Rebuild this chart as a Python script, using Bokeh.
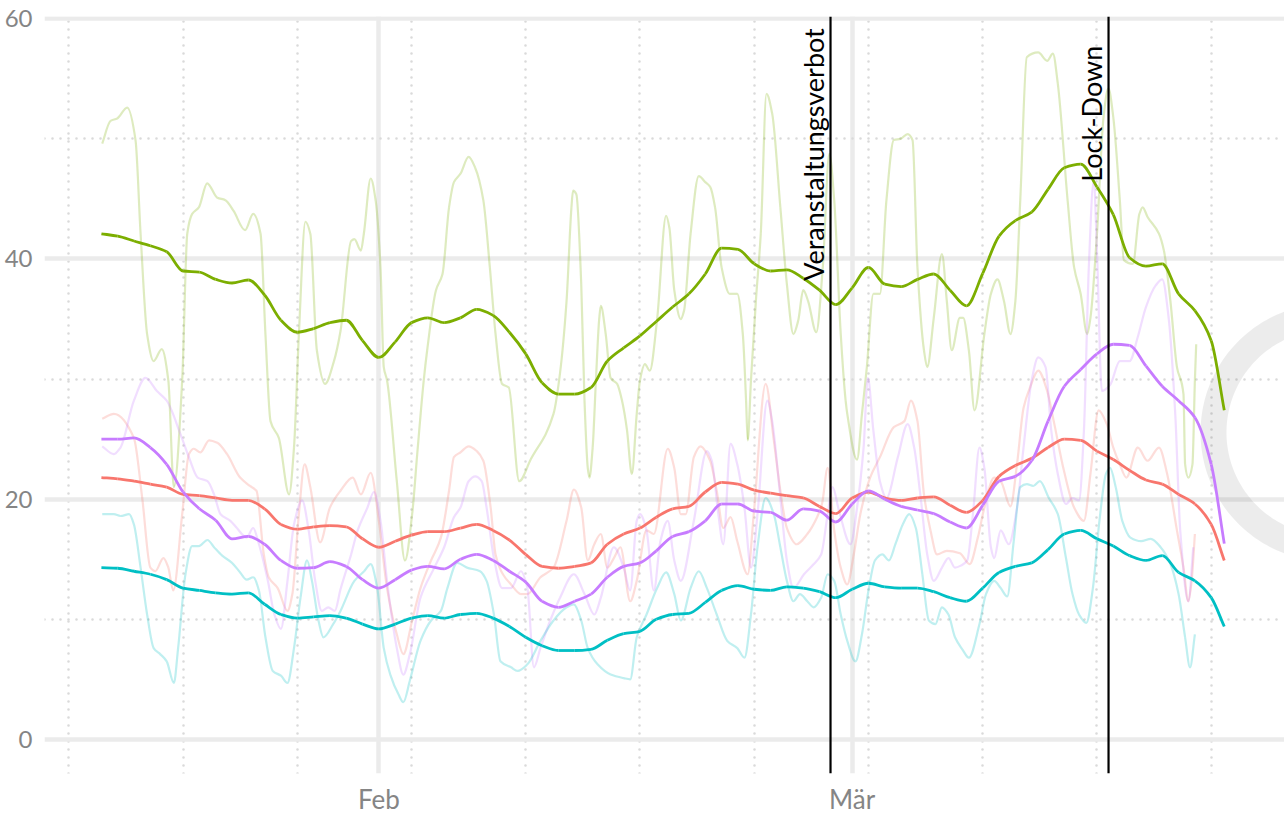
import numpy as np
import pandas as pd
from bokeh.plotting import figure
from bokeh.models import Range1d, FixedTicker, CustomJSTickFormatter, Span
from bokeh.core.properties import value
from bokeh.embed import file_html
from bokeh.resources import INLINE

# ---------------- data ----------------
START = "2020-01-15"          # day 0 of all day offsets below

# smoothed series: one value per day (day 0 .. 68) plus the last point at day 68.8
smooth_days = list(range(69)) + [68.8]
green_smooth = [42.1, 41.9, 41.5, 41.1, 40.6, 39.0, 38.9, 38.3, 38.0, 38.25,
                37.0, 34.9, 33.9, 34.2, 34.7, 34.9, 33.2, 31.8, 33.1, 34.7,
                35.1, 34.7, 35.1, 35.8, 35.3, 33.9, 32.1, 29.7, 28.75, 28.75,
                29.3, 31.5, 32.6, 33.6, 34.8, 36.0, 37.1, 38.75, 40.9, 40.8,
                39.6, 39.0, 39.1, 38.4, 37.4, 36.2, 37.6, 39.3, 37.9, 37.7,
                38.3, 38.75, 37.4, 36.1, 38.8, 41.9, 43.2, 43.9, 45.8, 47.6,
                47.9, 46.0, 43.7, 40.1, 39.4, 39.6, 37.1, 35.7, 33.2, 27.4]
red_smooth = [21.8, 21.7, 21.5, 21.25, 21.0, 20.4, 20.3, 20.1, 19.9, 19.9,
              19.2, 17.9, 17.5, 17.7, 17.8, 17.7, 16.7, 16.0, 16.5, 17.0,
              17.3, 17.3, 17.6, 17.9, 17.4, 16.6, 15.4, 14.4, 14.25, 14.4,
              14.7, 16.25, 17.1, 17.6, 18.5, 19.2, 19.4, 20.6, 21.4, 21.25,
              20.75, 20.5, 20.3, 20.1, 19.4, 18.8, 20.1, 20.6, 20.1, 19.9,
              20.1, 20.2, 19.5, 18.9, 19.9, 21.9, 22.8, 23.4, 24.3, 25.0,
              24.9, 24.0, 23.3, 22.4, 21.6, 21.25, 20.4, 19.6, 17.9, 14.9]
purple_smooth = [25.0, 25.0, 25.1, 24.3, 22.9, 20.6, 19.2, 18.25, 16.7, 16.9,
                 16.25, 14.9, 14.25, 14.3, 14.8, 14.4, 13.3, 12.6, 13.3, 14.1,
                 14.4, 14.2, 15.0, 15.4, 14.9, 14.0, 13.1, 11.5, 11.0, 11.5,
                 12.1, 13.5, 14.4, 14.7, 15.7, 16.9, 17.3, 18.2, 19.6, 19.6,
                 19.0, 18.9, 18.25, 19.2, 19.0, 18.1, 19.6, 20.7, 20.0, 19.4,
                 19.1, 18.8, 18.1, 17.6, 19.5, 21.5, 21.9, 23.2, 26.5, 29.4,
                 30.8, 32.1, 32.9, 32.8, 31.1, 29.4, 28.2, 26.8, 22.9, 16.3]
cyan_smooth = [14.3, 14.25, 14.0, 13.75, 13.3, 12.6, 12.4, 12.2, 12.1, 12.2,
               11.25, 10.4, 10.1, 10.2, 10.3, 10.1, 9.6, 9.2, 9.6, 10.1,
               10.3, 10.1, 10.4, 10.5, 10.1, 9.4, 8.5, 7.8, 7.4, 7.4,
               7.5, 8.25, 8.8, 9.0, 10.0, 10.4, 10.5, 11.4, 12.4, 12.8,
               12.5, 12.4, 12.7, 12.6, 12.3, 11.8, 12.5, 13.0, 12.7, 12.6,
               12.6, 12.3, 11.8, 11.5, 12.6, 13.9, 14.4, 14.7, 15.8, 17.1,
               17.4, 16.7, 16.1, 15.3, 14.9, 15.3, 13.9, 13.2, 11.8, 9.4]

# raw series: (day offset, value) pairs
green_raw = [(0.05, 49.6), (0.56, 51.5), (0.97, 51.7), (1.58, 52.6), (2.09, 49.9), (2.4, 42.1),
             (2.8, 33.75), (3.2, 31.5), (3.7, 32.5), (4.1, 29.9), (4.44, 21.0), (4.95, 29.9),
             (5.26, 42.1), (5.56, 43.75), (5.97, 44.3), (6.48, 46.3), (7.1, 45.1), (7.6, 44.9),
             (8.1, 44.0), (8.8, 42.4), (9.3, 43.75), (9.75, 42.1), (10.05, 33.75), (10.36, 26.5),
             (10.87, 25.1), (11.5, 20.4), (11.8, 24.3), (12.1, 33.75), (12.5, 43.1), (12.8, 42.1),
             (13.2, 32.4), (13.7, 29.6), (14.25, 31.5), (14.65, 34.0), (15.3, 41.5), (15.5, 41.65),
             (15.9, 40.7), (16.08, 42.1), (16.5, 46.7), (16.8, 44.9), (17.1, 39.3), (17.3, 31.0),
             (17.5, 29.9), (18.1, 21.5), (18.6, 14.9), (19.04, 18.75), (19.35, 23.75), (19.75, 29.9),
             (19.96, 32.4), (20.5, 37.4), (20.9, 38.75), (21.3, 44.3), (21.6, 46.4), (22.0, 47.1),
             (22.5, 48.5), (22.9, 47.6), (23.4, 44.9), (23.8, 39.3), (24.15, 33.75), (24.55, 29.6),
             (24.96, 29.3), (25.6, 21.5), (26.3, 23.3), (27.7, 27.1), (28.1, 30.5), (28.5, 36.5),
             (28.8, 44.3), (28.9, 45.7), (29.1, 45.4), (29.4, 37.9), (29.6, 28.2), (29.8, 22.6),
             (29.9, 21.8), (30.1, 24.3), (30.3, 29.9), (30.5, 35.0), (30.6, 36.1), (30.9, 33.75),
             (31.2, 30.1), (31.6, 29.6), (31.9, 28.2), (32.2, 25.8), (32.5, 22.1), (32.8, 27.1),
             (33.0, 29.9), (33.3, 31.25), (33.6, 30.7), (34.05, 35.0), (34.6, 43.6), (34.8, 42.6),
             (35.1, 37.4), (35.5, 35.0), (35.7, 35.7), (36.1, 42.1), (36.6, 46.9), (37.0, 46.4),
             (37.3, 46.0), (37.6, 44.3), (38.0, 39.3), (38.5, 37.1), (38.96, 37.1), (39.3, 33.75),
             (39.5, 28.2), (39.6, 24.9), (39.8, 29.9), (40.1, 36.5), (40.4, 42.1), (40.75, 53.75),
             (41.1, 52.1), (41.6, 44.3), (42.0, 37.9), (42.4, 33.75), (42.7, 34.9), (43.0, 37.4),
             (43.3, 36.5), (43.8, 33.9), (44.2, 39.3), (44.6, 48.75), (44.9, 44.9), (45.3, 33.75),
             (45.6, 28.2), (45.7, 27.1), (46.3, 23.3), (46.6, 27.1), (46.9, 31.0), (47.3, 37.1),
             (47.7, 37.1), (48.1, 44.9), (48.55, 49.9), (48.96, 50.0), (49.4, 50.4), (49.7, 49.9),
             (50.0, 39.3), (50.4, 32.4), (50.6, 31.0), (51.0, 35.1), (51.5, 40.4), (51.8, 36.5),
             (52.1, 32.4), (52.6, 35.1), (52.8, 35.1), (53.15, 32.4), (53.5, 27.4), (54.1, 33.75),
             (54.5, 37.1), (54.9, 38.3), (55.3, 36.5), (55.7, 33.75), (56.0, 36.5), (56.3, 44.9),
             (56.7, 56.8), (57.4, 57.2), (57.95, 56.5), (58.3, 57.1), (58.6, 54.6), (59.2, 44.9),
             (59.6, 39.3), (60.0, 37.1), (60.4, 33.75), (60.6, 35.1), (61.0, 42.1), (61.4, 51.8),
             (61.7, 54.2), (62.0, 51.8), (62.4, 44.9), (62.65, 39.9), (63.2, 39.6), (63.6, 43.75),
             (63.8, 44.3), (64.1, 43.5), (64.8, 42.1), (65.1, 40.7), (65.5, 36.5), (65.9, 31.0),
             (66.3, 28.75), (66.4, 22.9), (66.6, 21.8), (66.85, 22.9), (67.0, 29.9), (67.08, 32.9)]

red_raw = [(0.05, 26.7), (0.76, 27.1), (1.99, 25.1), (2.5, 20.1), (3.0, 14.3), (3.3, 14.0),
           (3.8, 15.1), (4.1, 14.3), (4.4, 12.4), (4.95, 18.75), (5.36, 23.75), (5.66, 24.2),
           (6.07, 23.9), (6.6, 24.9), (7.1, 24.7), (7.7, 23.75), (8.5, 21.8), (9.1, 21.1),
           (9.5, 20.7), (9.95, 15.4), (10.25, 13.5), (10.8, 12.6), (11.4, 10.7), (11.7, 12.1),
           (12.1, 18.75), (12.45, 22.9), (12.8, 21.0), (13.4, 16.4), (14.0, 19.3), (14.65, 20.7),
           (15.4, 21.8), (15.9, 20.4), (16.5, 22.2), (17.0, 18.2), (17.5, 12.6), (18.1, 8.75),
           (18.5, 7.1), (19.04, 9.9), (19.55, 12.6), (20.2, 14.9), (20.8, 16.8), (21.3, 20.7),
           (21.6, 23.5), (22.0, 23.9), (22.5, 24.4), (23.0, 24.0), (23.4, 23.2), (23.85, 19.3),
           (24.15, 15.4), (24.6, 13.75), (25.1, 12.9), (25.7, 12.1), (26.1, 12.1), (26.9, 13.5),
           (27.7, 14.3), (28.5, 18.2), (28.95, 20.8), (29.4, 19.3), (29.8, 14.9), (30.2, 16.25),
           (30.6, 17.1), (31.0, 14.3), (31.4, 15.1), (31.8, 16.0), (32.4, 11.5), (32.8, 13.2),
           (33.4, 17.4), (33.85, 17.1), (34.7, 24.2), (35.1, 22.6), (35.5, 18.75), (35.8, 18.75),
           (36.3, 23.5), (36.7, 24.4), (37.3, 23.2), (37.7, 20.7), (38.1, 17.6), (38.55, 18.5),
           (38.96, 16.5), (39.6, 13.75), (39.97, 18.75), (40.7, 29.6), (41.2, 24.9), (41.6, 20.7),
           (42.0, 17.6), (42.6, 16.25), (43.25, 17.1), (43.85, 18.5), (44.15, 19.6), (44.5, 22.6),
           (44.9, 17.4), (45.3, 14.3), (45.7, 12.9), (46.1, 15.4), (46.5, 18.75), (47.1, 21.8),
           (47.7, 23.5), (48.55, 26.0), (49.2, 26.5), (49.6, 28.2), (50.0, 26.5), (50.4, 20.4),
           (50.8, 17.4), (51.2, 15.4), (51.8, 15.7), (52.6, 15.5), (53.2, 14.6), (53.7, 16.8),
           (54.1, 19.3), (54.7, 21.8), (55.1, 21.5), (55.7, 19.4), (56.1, 22.9), (56.5, 27.6),
           (56.9, 29.3), (57.4, 30.7), (57.95, 29.0), (58.35, 26.5), (58.97, 22.4), (59.6, 19.3),
           (60.2, 18.2), (60.6, 22.1), (61.1, 27.4), (61.6, 26.25), (62.0, 24.3), (62.4, 22.9),
           (62.8, 21.8), (63.5, 24.3), (64.1, 23.2), (64.8, 24.3), (65.3, 22.1), (65.9, 17.4),
           (66.3, 14.3), (66.6, 11.5), (66.8, 13.2), (67.0, 17.1)]

purple_raw = [(0.05, 24.4), (0.76, 23.75), (1.17, 24.3), (1.99, 28.2), (2.7, 30.1), (3.4, 29.0),
              (4.0, 28.2), (4.85, 25.4), (5.36, 23.5), (5.9, 21.8), (6.5, 21.5), (6.9, 20.4),
              (7.3, 18.75), (7.9, 18.2), (8.3, 17.6), (8.9, 16.8), (9.3, 17.6), (9.6, 16.5),
              (10.2, 13.2), (10.6, 10.4), (11.0, 9.2), (11.4, 13.2), (11.8, 17.9), (12.3, 19.9),
              (12.7, 17.4), (13.1, 13.2), (13.5, 10.7), (13.9, 11.0), (14.3, 10.7), (14.65, 12.5),
              (15.3, 15.4), (15.7, 17.4), (16.3, 19.3), (16.7, 20.6), (17.1, 18.2), (17.5, 13.2),
              (18.1, 7.6), (18.5, 5.4), (18.9, 7.1), (19.55, 11.8), (20.4, 14.3), (21.0, 16.0),
              (21.6, 18.5), (22.0, 19.3), (22.5, 21.5), (22.9, 21.9), (23.3, 21.5), (23.6, 19.3),
              (24.05, 15.1), (24.55, 12.6), (25.1, 12.6), (25.7, 14.0), (26.1, 12.6), (26.5, 6.0),
              (26.9, 7.6), (27.5, 9.9), (28.1, 11.8), (28.95, 13.75), (29.6, 12.1), (30.2, 10.4),
              (30.6, 11.8), (31.4, 16.0), (32.0, 14.3), (32.4, 12.4), (32.8, 18.2), (33.0, 18.75),
              (33.4, 17.4), (33.85, 12.4), (34.25, 16.5), (34.7, 18.2), (35.1, 14.9), (35.5, 13.2),
              (36.3, 18.2), (37.1, 24.0), (37.4, 23.2), (37.8, 18.75), (38.1, 16.25), (38.55, 24.6),
              (38.96, 22.9), (39.4, 19.3), (39.8, 14.3), (40.2, 18.75), (40.8, 28.2), (41.1, 26.5),
              (41.6, 20.1), (42.0, 14.9), (42.4, 12.6), (43.05, 13.75), (43.65, 14.6), (44.1, 15.4),
              (44.5, 18.75), (44.8, 21.0), (45.2, 19.0), (45.9, 16.25), (46.3, 19.3), (46.7, 24.3),
              (46.96, 30.1), (47.3, 25.7), (47.7, 21.5), (48.1, 20.1), (48.8, 23.5), (49.4, 26.25),
              (49.8, 24.3), (50.2, 20.1), (50.6, 15.4), (51.0, 13.2), (51.5, 14.3), (51.9, 15.1),
              (52.3, 14.3), (52.7, 14.5), (53.05, 14.9), (53.4, 18.75), (53.8, 24.3), (54.1, 22.6),
              (54.5, 16.0), (54.7, 15.1), (55.1, 17.4), (55.6, 16.25), (56.1, 19.3), (56.5, 24.3),
              (57.0, 29.9), (57.4, 31.8), (57.85, 31.0), (58.2, 25.7), (58.6, 22.1), (59.1, 19.6),
              (59.5, 20.1), (59.9, 19.9), (60.2, 25.7), (60.5, 39.3), (60.8, 46.5), (61.0, 40.7),
              (61.3, 29.0), (61.8, 29.5), (62.4, 31.5), (63.0, 31.5), (63.5, 33.5), (64.0, 36.0),
              (64.6, 37.8), (65.0, 38.3), (65.4, 35.0), (65.8, 27.0), (66.1, 17.4), (66.6, 11.5),
              (66.9, 16.0)]

cyan_raw = [(0.05, 18.75), (0.76, 18.75), (1.17, 18.6), (1.7, 18.75), (1.99, 17.9), (2.4, 14.3),
            (2.8, 10.4), (3.2, 7.6), (3.6, 7.1), (4.0, 6.5), (4.44, 4.7), (4.7, 7.6),
            (5.15, 13.75), (5.56, 16.1), (5.97, 16.1), (6.5, 16.6), (6.9, 16.0), (7.4, 15.3),
            (8.0, 14.7), (8.5, 13.9), (8.9, 13.3), (9.3, 13.5), (9.65, 12.4), (10.05, 8.5),
            (10.5, 5.7), (11.0, 5.3), (11.4, 4.7), (11.8, 7.6), (12.2, 11.8), (12.6, 14.9),
            (12.9, 13.2), (13.3, 9.9), (13.6, 8.5), (14.2, 9.6), (14.65, 10.7), (15.5, 13.2),
            (16.1, 14.0), (16.5, 14.6), (16.9, 12.6), (17.3, 7.6), (17.7, 5.4), (18.2, 3.75),
            (18.5, 3.1), (18.9, 4.9), (19.55, 8.2), (20.2, 9.9), (20.8, 10.7), (21.2, 12.6),
            (21.8, 14.7), (22.4, 14.3), (23.2, 14.0), (23.6, 13.2), (24.05, 10.4), (24.45, 6.5),
            (25.1, 6.0), (25.5, 5.7), (26.1, 6.25), (26.9, 8.2), (27.7, 9.9), (28.5, 11.0),
            (28.95, 11.25), (29.4, 9.9), (29.8, 7.6), (30.4, 6.25), (31.2, 5.4), (32.0, 5.1),
            (32.4, 5.0), (32.8, 8.5), (33.4, 10.4), (34.05, 12.6), (34.6, 13.9), (35.1, 12.1),
            (35.5, 9.9), (36.1, 12.6), (36.6, 14.0), (37.1, 12.6), (37.7, 10.4), (38.35, 8.2),
            (38.96, 7.6), (39.4, 6.8), (39.8, 10.4), (40.2, 16.0), (40.7, 20.1), (41.2, 18.75),
            (41.6, 16.0), (42.0, 13.2), (42.4, 11.5), (42.8, 12.1), (43.25, 11.5), (43.65, 11.0),
            (44.1, 11.8), (44.5, 13.75), (44.9, 13.2), (45.3, 10.4), (45.7, 8.2), (46.2, 6.5),
            (46.6, 8.75), (47.0, 12.4), (47.4, 14.9), (47.85, 15.4), (48.25, 14.9), (48.65, 16.25),
            (49.1, 17.9), (49.5, 18.75), (49.9, 17.6), (50.3, 13.75), (50.7, 9.9), (51.1, 9.6),
            (51.5, 11.0), (51.9, 10.4), (52.3, 8.5), (52.75, 7.5), (53.15, 6.8), (53.8, 9.6),
            (54.2, 12.1), (54.7, 13.2), (55.1, 12.6), (55.5, 11.9), (55.9, 16.5), (56.3, 21.0),
            (56.7, 21.25), (57.1, 21.1), (57.5, 21.5), (58.05, 20.1), (58.6, 18.75), (59.1, 15.1),
            (59.5, 12.1), (59.9, 10.4), (60.35, 9.7), (60.75, 12.6), (61.15, 18.2), (61.55, 22.1),
            (61.8, 22.6), (62.15, 21.0), (62.55, 18.2), (63.05, 16.8), (63.7, 16.5), (64.3, 16.7),
            (64.9, 16.0), (65.5, 14.6), (66.0, 12.1), (66.4, 8.5), (66.7, 6.0), (67.0, 8.75)]

series_colors = {"red": "#F8766D", "green": "#7CAE00", "cyan": "#00BFC4", "purple": "#C77CFF"}

# axis ticks
month_ticks = ["2020-02-01", "2020-03-01"]
month_labels = ["Feb", "Mär"]
week_ticks = ["2020-01-13", "2020-01-20", "2020-01-27", "2020-02-03", "2020-02-10", "2020-02-17",
              "2020-02-24", "2020-03-02", "2020-03-09", "2020-03-16", "2020-03-23"]
y_ticks = [0, 20, 40, 60]
y_minor_ticks = [10, 30, 50]

# events
event_times = ["2020-02-28 16:10", "2020-03-16 17:00"]
event_labels = ["Veranstaltungsverbot", "Lock-Down"]
event_label_y = [48.7, 52.1]

# ---------------- helpers ----------------
MS_PER_DAY = 86400000.0
start_ms = pd.Timestamp(START).value / 1e6


def day_to_ms(days):
    return start_ms + np.asarray(days, dtype=float) * MS_PER_DAY


def ts_ms(s):
    return pd.Timestamp(s).value / 1e6


def smooth_segments(days, vals):
    """Cubic Hermite (monotone, Fritsch-Carlson) bezier segments through the given points."""
    x = np.asarray(days, dtype=float)
    y = np.asarray(vals, dtype=float)
    h = np.diff(x)
    d = np.diff(y) / h
    m = np.zeros_like(y)
    m[0], m[-1] = d[0], d[-1]
    for i in range(1, len(y) - 1):
        if d[i - 1] * d[i] > 0:
            w1 = 2 * h[i] + h[i - 1]
            w2 = h[i] + 2 * h[i - 1]
            m[i] = (w1 + w2) / (w1 / d[i - 1] + w2 / d[i])
    return dict(
        x0=day_to_ms(x[:-1]), y0=y[:-1], x1=day_to_ms(x[1:]), y1=y[1:],
        cx0=day_to_ms(x[:-1] + h / 3), cy0=y[:-1] + m[:-1] * h / 3,
        cx1=day_to_ms(x[1:] - h / 3), cy1=y[1:] - m[1:] * h / 3)


# ---------------- figure ----------------
FONT = "Lato"
x_range = Range1d(float(day_to_ms(-3.487)), float(day_to_ms(72.49)))
y_range = Range1d(-2.84, 60.19)

p = figure(frame_width=1240, frame_height=757, x_axis_type="datetime",
           x_range=x_range, y_range=y_range,
           output_backend="svg", toolbar_location=None,
           min_border_left=44, min_border_right=0, min_border_top=16, min_border_bottom=38)
p.outline_line_color = None
p.background_fill_color = "white"
p.border_fill_color = "white"

# x axis
tick_ms = [ts_ms(t) for t in month_ticks]
p.xaxis.ticker = FixedTicker(ticks=tick_ms, minor_ticks=[ts_ms(t) for t in week_ticks])
p.xaxis.formatter = CustomJSTickFormatter(
    args=dict(month_values=tick_ms, month_names=month_labels),
    code="const i = month_values.indexOf(tick); return i >= 0 ? month_names[i] : '';")
p.yaxis.ticker = FixedTicker(ticks=y_ticks, minor_ticks=y_minor_ticks)

for ax in (p.xaxis[0], p.yaxis[0]):
    ax.axis_line_color = None
    ax.major_tick_line_color = None
    ax.minor_tick_line_color = None
    ax.major_tick_out = 0
    ax.major_tick_in = 0
    ax.minor_tick_out = 0
    ax.major_label_text_font = FONT
    ax.major_label_text_color = "#858585"
p.xaxis.major_label_text_font_size = "26px"
p.yaxis.major_label_text_font_size = "24px"
p.xaxis.major_label_standoff = 9
p.yaxis.major_label_standoff = 12

for g in (p.xgrid[0], p.ygrid[0]):
    g.grid_line_color = "#ebebeb"
    g.grid_line_width = 4.5
    g.minor_grid_line_color = "#dadada"
    g.minor_grid_line_width = 2.6
    g.minor_grid_line_dash = "0 8"
    g.minor_grid_line_cap = "round"

# watermark ring (decoration, in page pixel coordinates)
p.extra_x_ranges = {"px": Range1d(44, 1284)}
p.extra_y_ranges = {"py": Range1d(773, 16)}
ring_cx, ring_cy, ring_r_out, ring_r_in = 1329, 432, 129, 103
th = np.linspace(0, 2 * np.pi, 240)
p.multi_polygons(
    xs=[[[list(ring_cx + ring_r_out * np.cos(th)), list(ring_cx + ring_r_in * np.cos(th))]]],
    ys=[[[list(ring_cy + ring_r_out * np.sin(th)), list(ring_cy + ring_r_in * np.sin(th))]]],
    x_range_name="px", y_range_name="py",
    fill_color="#000000", fill_alpha=0.075, line_color=None)

# raw lines (faint)
raw = {"green": green_raw, "red": red_raw, "purple": purple_raw, "cyan": cyan_raw}
for name in ["green", "red", "purple", "cyan"]:
    d, v = zip(*raw[name])
    p.bezier(line_color=series_colors[name], line_alpha=0.25, line_width=2.2,
             **smooth_segments(d, v))

# smoothed lines
smooth = {"green": green_smooth, "red": red_smooth, "purple": purple_smooth, "cyan": cyan_smooth}
for name in ["green", "red", "purple", "cyan"]:
    p.bezier(line_color=series_colors[name], line_width=2.8,
             **smooth_segments(smooth_days, smooth[name]))

# events
for t in event_times:
    p.add_layout(Span(location=ts_ms(t), dimension="height", line_color="black", line_width=2.2))
p.text(x=[ts_ms(t) for t in event_times], y=event_label_y, text=event_labels,
       angle=np.pi / 2, text_align="center", text_baseline="bottom", x_offset=-1,
       text_font=value(FONT), text_font_size="27px", text_color="black")

open("out.html", "w").write(file_html(p, INLINE))
